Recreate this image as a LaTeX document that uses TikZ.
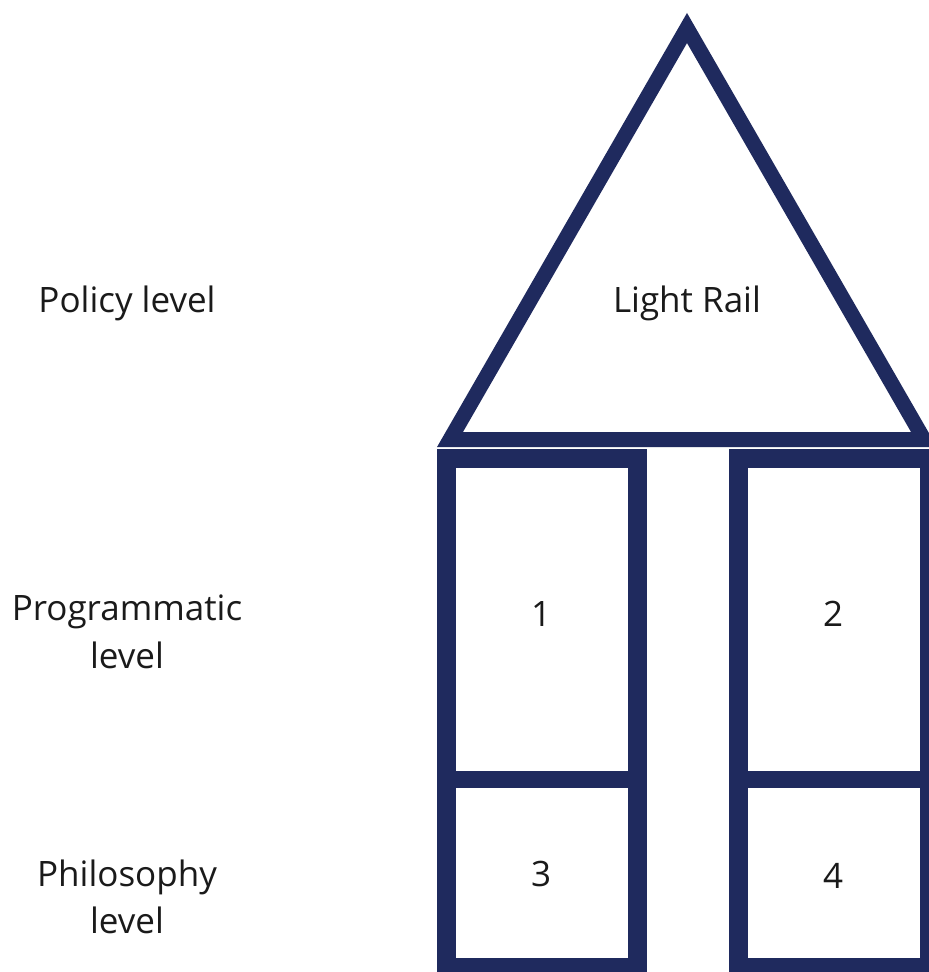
\documentclass[tikz,border=0pt]{standalone}
\usepackage{fontspec}
\setmainfont{Open Sans}
\definecolor{navy}{RGB}{31,42,94}
\definecolor{ink}{RGB}{26,26,26}
\begin{document}
\begin{tikzpicture}[x=1pt,y=-1pt,
  roof/.style={draw=navy,line width=15pt,line join=miter},
  pillar/.style={draw=navy,line width=19pt,line join=miter},
  shelf/.style={draw=navy,line width=17pt},
  label/.style={inner sep=0pt,anchor=base,text=ink,font=\fontsize{35}{48}\selectfont}]
  \clip (0,0) rectangle (929,972);
  \fill[white] (0,0) rectangle (929,972);

  % pillars with their dividing shelves
  \draw[pillar] (446.5,458) rectangle (637.5,967.5);
  \draw[pillar] (738.5,458) rectangle (929.5,967.5);
  \draw[shelf] (437,779.5) -- (647,779.5);
  \draw[shelf] (729,779.5) -- (939,779.5);

  % roof
  \draw[roof] (450,439.5) -- (687,28) -- (924,439.5) -- cycle;

  % texts
  \node[label] (roofname) at (687,312) {Light Rail};
  \node[label] (policy) at (127,312) {Policy level};
  \node[label] (progA) at (127,620) {Programmatic};
  \node[label] (progB) at (127,668) {level};
  \node[label] (philA) at (127,886) {Philosophy};
  \node[label] (philB) at (127,933) {level};
  \node[label] (one) at (541,626) {1};
  \node[label] (two) at (833,626) {2};
  \node[label] (three) at (541,886) {3};
  \node[label] (four) at (833,888) {4};
\end{tikzpicture}
\end{document}
